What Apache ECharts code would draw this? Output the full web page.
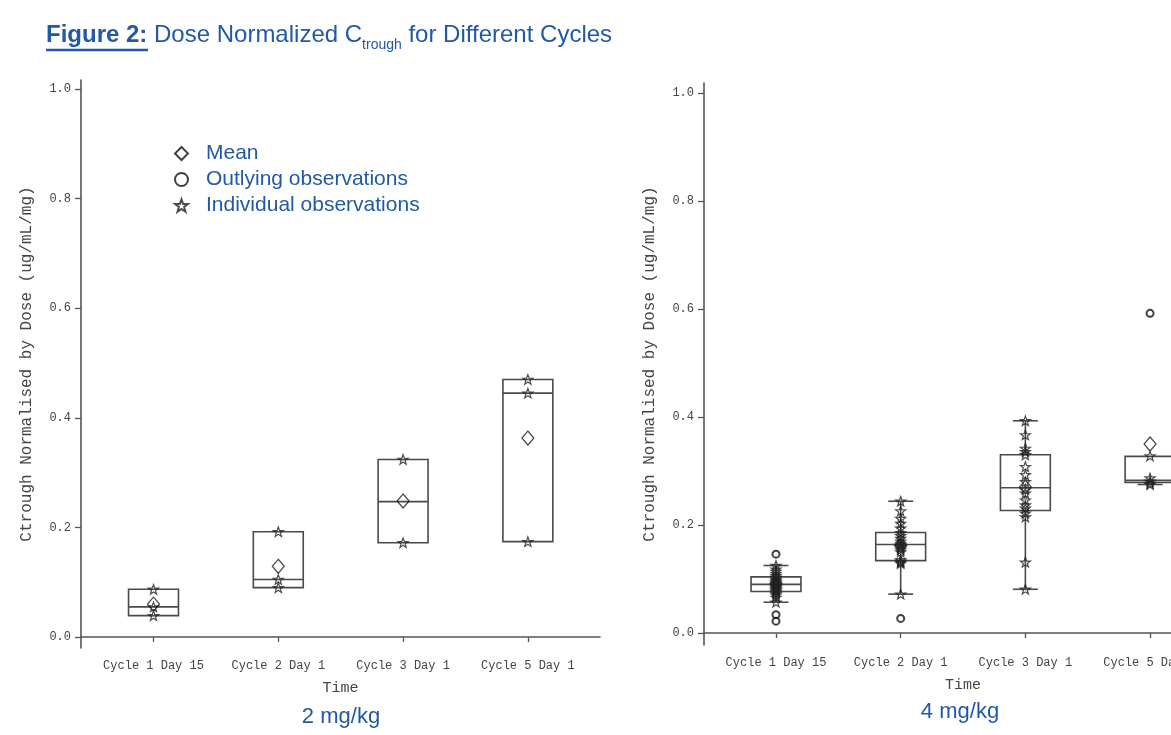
<!DOCTYPE html>
<html>
<head>
<meta charset="utf-8">
<script src="https://cdn.jsdelivr.net/npm/echarts@6/dist/echarts.min.js"></script>
<style>
html, body { margin: 0; padding: 0; background: #fff; }
#main { width: 1171px; height: 735px; }
</style>
</head>
<body>
<div id="main"></div>
<script>
// categories and ticks
var categories = ['Cycle 1 Day 15', 'Cycle 2 Day 1', 'Cycle 3 Day 1', 'Cycle 5 Day 1'];
var xTicks = [1, 2, 3, 4];
var yTicks = [0, 0.2, 0.4, 0.6, 0.8, 1.0];

// 2 mg/kg : [low whisker, Q1, median, Q3, high whisker]
var box2 = [
	[0.039, 0.039, 0.055, 0.087, 0.087],
	[0.090, 0.090, 0.105, 0.192, 0.192],
	[0.172, 0.172, 0.247, 0.324, 0.324],
	[0.174, 0.174, 0.445, 0.470, 0.470]
];
var mean2 = [0.060, 0.129, 0.248, 0.363];
var obs2 = [
	[0.087, 0.055, 0.039],
	[0.192, 0.105, 0.090],
	[0.324, 0.172],
	[0.470, 0.445, 0.174]
];
var out2 = [[], [], [], []];

// 4 mg/kg
var box4 = [
	[0.057, 0.077, 0.090, 0.104, 0.125],
	[0.072, 0.134, 0.164, 0.186, 0.244],
	[0.081, 0.227, 0.269, 0.330, 0.393],
	[0.275, 0.279, 0.283, 0.327, 0.327]
];
var mean4 = [0.091, 0.162, 0.270, 0.350];
var obs4 = [
	[0.125, 0.118, 0.114, 0.110, 0.106, 0.103, 0.100, 0.098, 0.096, 0.094, 0.092, 0.090, 0.088, 0.086, 0.084, 0.082, 0.080, 0.078, 0.076, 0.073, 0.070, 0.066, 0.057],
	[0.244, 0.226, 0.212, 0.203, 0.194, 0.186, 0.180, 0.175, 0.170, 0.166, 0.163, 0.160, 0.157, 0.154, 0.150, 0.136, 0.133, 0.131, 0.129, 0.072],
	[0.393, 0.367, 0.342, 0.336, 0.330, 0.308, 0.293, 0.280, 0.266, 0.259, 0.246, 0.237, 0.231, 0.222, 0.215, 0.131, 0.081],
	[0.328, 0.287, 0.281, 0.277, 0.275]
];
var out4 = [[0.146, 0.034, 0.022], [0.027], [], [0.592]];

var blue = '#2159a6';
var axisGray = '#555';
var starPath = 'path://M50,0 L61.76,33.82 L97.55,34.55 L69.02,56.18 L79.39,90.45 L50,70 L20.61,90.45 L30.98,56.18 L2.45,34.55 L38.24,33.82 Z';

function boxData(box) {
	return box.map(function (b, i) { return [xTicks[i]].concat(b); });
}
function pointData(list) {
	var res = [];
	list.forEach(function (vals, i) {
		vals.forEach(function (v) { res.push([xTicks[i], v]); });
	});
	return res;
}
function meanData(list) {
	return list.map(function (v, i) { return [xTicks[i], v]; });
}

// box + median + whiskers/caps
function renderBox(params, api) {
	var x = api.value(0);
	var lo = api.value(1), q1 = api.value(2), med = api.value(3), q3 = api.value(4), hi = api.value(5);
	var tl = api.coord([x - 0.2, q3]);
	var br = api.coord([x + 0.2, q1]);
	var st = { stroke: '#4a4a4a', lineWidth: 1.6, fill: null };
	var ym = api.coord([x, med])[1];
	var kids = [
		{ type: 'rect', shape: { x: tl[0], y: tl[1], width: br[0] - tl[0], height: br[1] - tl[1] }, style: st },
		{ type: 'line', shape: { x1: tl[0], y1: ym, x2: br[0], y2: ym }, style: st }
	];
	var c = api.coord([x, 0])[0];
	var capL = api.coord([x - 0.1, 0])[0], capR = api.coord([x + 0.1, 0])[0];
	if (hi > q3) {
		var yh = api.coord([x, hi])[1];
		kids.push({ type: 'line', shape: { x1: c, y1: tl[1], x2: c, y2: yh }, style: st });
		kids.push({ type: 'line', shape: { x1: capL, y1: yh, x2: capR, y2: yh }, style: st });
	}
	if (lo < q1) {
		var yl = api.coord([x, lo])[1];
		kids.push({ type: 'line', shape: { x1: c, y1: br[1], x2: c, y2: yl }, style: st });
		kids.push({ type: 'line', shape: { x1: capL, y1: yl, x2: capR, y2: yl }, style: st });
	}
	return { type: 'group', children: kids };
}

function xAxisFor(idx, min, max) {
	return {
		gridIndex: idx, type: 'value', min: min, max: max,
		splitLine: { show: false },
		axisLine: { show: true, lineStyle: { color: axisGray, width: 1.6 } },
		axisTick: { show: true, customValues: xTicks, length: 5, lineStyle: { color: axisGray, width: 1.3 } },
		axisLabel: {
			customValues: xTicks, margin: 12, color: '#444', fontSize: 12,
			fontFamily: 'Liberation Mono',
			formatter: function (v) { return categories[Math.round(v) - 1]; }
		},
		name: 'Time', nameLocation: 'middle', nameGap: 33,
		nameTextStyle: { color: '#444', fontSize: 15, fontFamily: 'Liberation Mono' }
	};
}
function yAxisFor(idx, min, max) {
	return {
		gridIndex: idx, type: 'value', min: min, max: max,
		splitLine: { show: false },
		axisLine: { show: true, lineStyle: { color: axisGray, width: 1.6 } },
		axisTick: { show: true, customValues: yTicks, length: 6, lineStyle: { color: axisGray, width: 1.3 } },
		axisLabel: {
			customValues: yTicks, margin: 10, color: '#444', fontSize: 12,
			fontFamily: 'Liberation Mono',
			formatter: function (v) { return v.toFixed(1); }
		},
		name: 'Ctrough Normalised by Dose (ug/mL/mg)', nameLocation: 'middle', nameGap: 46, nameRotate: 90,
		nameTextStyle: { color: '#444', fontSize: 16, fontFamily: 'Liberation Mono' }
	};
}

function seriesFor(idx, box, mean, obs, out) {
	return [
		{
			type: 'custom', xAxisIndex: idx, yAxisIndex: idx, renderItem: renderBox,
			encode: { x: 0, y: [1, 2, 3, 4, 5] }, data: boxData(box), silent: true, z: 1, clip: false
		},
		{
			name: 'Mean', type: 'scatter', xAxisIndex: idx, yAxisIndex: idx,
			symbol: 'diamond', symbolSize: [12, 14],
			itemStyle: { color: 'rgba(0,0,0,0)', borderColor: '#111', borderWidth: 1.2 },
			data: meanData(mean), z: 2
		},
		{
			name: 'Outlying observations', type: 'scatter', xAxisIndex: idx, yAxisIndex: idx,
			symbol: 'circle', symbolSize: 7,
			itemStyle: { color: 'rgba(0,0,0,0)', borderColor: '#111', borderWidth: 2 },
			data: pointData(out), z: 3
		},
		{
			name: 'Individual observations', type: 'scatter', xAxisIndex: idx, yAxisIndex: idx,
			symbol: starPath, symbolSize: 10, symbolKeepAspect: true,
			itemStyle: { color: 'rgba(0,0,0,0)', borderColor: '#222', borderWidth: 1.2 },
			data: pointData(obs), z: 4
		}
	];
}

var chart = echarts.init(document.getElementById('main'));
var option = {
	animation: false,
	backgroundColor: '#fff',
	grid: [
		{ left: 81, top: 80, width: 519, height: 568, containLabel: false, outerBoundsMode: 'none' },
		{ left: 704, top: 83, width: 518, height: 562, containLabel: false, outerBoundsMode: 'none' }
	],
	// right panel runs off the page past Cycle 5
	xAxis: [xAxisFor(0, 0.419, 4.578), xAxisFor(1, 0.4226, 4.577)],
	yAxis: [yAxisFor(0, -0.0201, 1.0164), yAxisFor(1, -0.0222, 1.0185)],
	legend: {
		data: ['Mean', 'Outlying observations', 'Individual observations'],
		orient: 'vertical', left: 169, top: 138,
		itemWidth: 13, itemHeight: 13, itemGap: 5,
		selectedMode: false,
		textStyle: { color: blue, fontSize: 21, fontFamily: 'Liberation Sans', padding: [0, 0, 0, 13] }
	},
	graphic: [
		{
			type: 'text', left: 46, top: 23,
			style: {
				text: '{b|Figure 2:} Dose Normalized C{s|trough} for Different Cycles',
				fill: blue, fontSize: 24, fontFamily: 'Liberation Sans',
				rich: {
					b: { fontWeight: 'bold', fontSize: 24, fontFamily: 'Liberation Sans', fill: blue },
					s: { fontSize: 14, fontFamily: 'Liberation Sans', fill: blue, padding: [20, 0, 0, 0] }
				}
			}
		},
		{ type: 'line', shape: { x1: 46, y1: 50, x2: 148, y2: 50 }, style: { stroke: blue, lineWidth: 2.5 } },
		{
			type: 'text', x: 341, y: 717,
			style: { text: '2 mg/kg', fill: blue, fontSize: 22, fontFamily: 'Liberation Sans', align: 'center', verticalAlign: 'middle' }
		},
		{
			type: 'text', x: 960, y: 712,
			style: { text: '4 mg/kg', fill: blue, fontSize: 22, fontFamily: 'Liberation Sans', align: 'center', verticalAlign: 'middle' }
		}
	],
	series: seriesFor(0, box2, mean2, obs2, out2).concat(seriesFor(1, box4, mean4, obs4, out4))
};
chart.setOption(option);
</script>
</body>
</html>
